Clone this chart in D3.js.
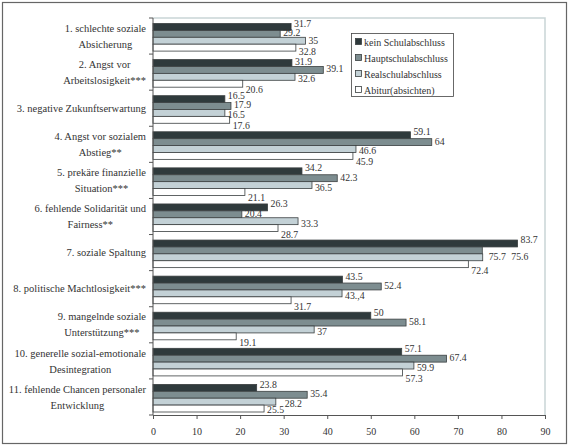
<!DOCTYPE html>
<html><head><meta charset="utf-8">
<script src="https://cdn.jsdelivr.net/npm/d3@7"></script>
<style>
html,body{margin:0;padding:0;background:#fff;}
svg text{font-family:"Liberation Serif","Times New Roman",serif;fill:#333;}
</style></head>
<body><svg id="chart" width="570" height="446"></svg>
<script>
// ---------- data ----------
const categories = [
  ["1. schlechte soziale","Absicherung"],
  ["2. Angst vor","Arbeitslosigkeit***"],
  ["3. negative Zukunftserwartung"],
  ["4. Angst vor sozialem","Abstieg**"],
  ["5. prekäre finanzielle","Situation***"],
  ["6. fehlende Solidarität und","Fairness**"],
  ["7. soziale Spaltung"],
  ["8. politische Machtlosigkeit***"],
  ["9. mangelnde soziale","Unterstützung***"],
  ["10. generelle sozial-emotionale","Desintegration"],
  ["11. fehlende Chancen personaler","Entwicklung"]
];
const seriesNames = ["kein Schulabschluss","Hauptschulabschluss","Realschulabschluss","Abitur(absichten)"];
const keinSchulabschluss  = [31.7,31.9,16.5,59.1,34.2,26.3,83.7,43.5,50,57.1,23.8];
const hauptschulabschluss = [29.2,39.1,17.9,64,42.3,20.4,75.6,52.4,58.1,67.4,35.4];
const realschulabschluss  = [35,32.6,16.5,46.6,36.5,33.3,75.7,43.4,37,59.9,28.2];
const abitur              = [32.8,20.6,17.6,45.9,21.1,28.7,72.4,31.7,19.1,57.3,25.5];
const xTicks = [0,10,20,30,40,50,60,70,80,90];
// label text as printed in the original (one typo kept)
const labelTextOverrides = [{g:7,s:2,text:"43.,4"}];

// ---------- style ----------
const colors = ["#2f3a3c","#7d8d90","#c3d1d6","#ffffff"];
const labelDy = [-3.5,-1,2,6];
const labelNudges = [{g:0,s:2,dx:0,dy:-2.2},{g:0,s:3,dx:0,dy:-2},{g:1,s:0,dx:0,dy:2.5},
  {g:6,s:1,dx:26,dy:7},{g:6,s:2,dx:3,dy:-3},{g:10,s:2,dx:6,dy:0},{g:10,s:3,dx:0,dy:-5}];

const allSeries = [keinSchulabschluss,hauptschulabschluss,realschulabschluss,abitur];
const svg = d3.select("#chart");

// outer frame
svg.append("rect").attr("x",2.5).attr("y",2.5).attr("width",564).attr("height",441)
  .attr("fill","none").attr("stroke","#666").attr("stroke-width",1.2);

const pLeft=153, pRight=545, pTop=18, pBottom=415;
const x = d3.scaleLinear().domain([0,90]).range([pLeft,pRight]);
const y = d3.scaleBand().domain(d3.range(categories.length)).range([pTop,pBottom]).padding(0);
const barH = (y.bandwidth()-8.5)/4;
const barOff = 5.5;

// plot area border (light, top & right)
svg.append("path").attr("d",`M${pLeft},${pTop}H${pRight}V${pBottom}`)
  .attr("fill","none").attr("stroke","#c9d5d6").attr("stroke-width",1.5);

// bars
categories.forEach((c,gi)=>{
  allSeries.forEach((ser,si)=>{
    const v = ser[gi];
    svg.append("rect")
      .attr("x",x(0)).attr("y",y(gi)+barOff+si*barH)
      .attr("width",x(v)-x(0)).attr("height",barH)
      .attr("fill",colors[si]).attr("stroke","#3a3f40").attr("stroke-width",0.8);
  });
});

// value labels
categories.forEach((c,gi)=>{
  allSeries.forEach((ser,si)=>{
    const v = ser[gi];
    const ov = labelTextOverrides.find(o=>o.g===gi&&o.s===si);
    const nd = labelNudges.find(o=>o.g===gi&&o.s===si) || {dx:0,dy:0};
    svg.append("text")
      .attr("x",x(v)+3+nd.dx)
      .attr("y",y(gi)+barOff+si*barH+barH/2+labelDy[si]+nd.dy)
      .attr("dy","0.35em")
      .attr("font-size",9.8)
      .text(ov?ov.text:String(v));
  });
});

// axes
const xAxis = d3.axisBottom(x).tickValues(xTicks).tickSize(4).tickSizeOuter(0).tickFormat(d3.format("d"));
const gx = svg.append("g").attr("transform",`translate(0,${pBottom})`).call(xAxis);
gx.select(".domain").attr("stroke","#555");
gx.selectAll(".tick line").attr("stroke","#555");
gx.selectAll(".tick text").attr("font-size",10).attr("dy","1.3em")
  .style("font-family","'Liberation Serif',serif").attr("fill","#333");

const yBounds = d3.range(categories.length+1).map(i=>pTop+i*y.bandwidth());
const gy = svg.append("g");
gy.append("line").attr("x1",pLeft).attr("x2",pLeft).attr("y1",pTop).attr("y2",pBottom).attr("stroke","#555");
gy.selectAll("line.t").data(yBounds).join("line").attr("class","t")
  .attr("x1",pLeft-4).attr("x2",pLeft).attr("y1",d=>d).attr("y2",d=>d).attr("stroke","#555");

// category labels (wrapped, lines centred, block right-aligned)
const labelRight = 146, lineH = 16;
categories.forEach((lines,gi)=>{
  const cy = y(gi)+y.bandwidth()/2;
  const g = svg.append("g");
  const texts = lines.map((ln,li)=>g.append("text")
    .attr("y",cy+(li-(lines.length-1)/2)*lineH).attr("dy","0.35em")
    .attr("font-size",10.5).attr("text-anchor","middle").text(ln));
  const w = d3.max(texts,t=>t.node().getComputedTextLength());
  texts.forEach(t=>t.attr("x",labelRight-w/2));
});

// legend
const lg = svg.append("g");
lg.append("rect").attr("x",351.5).attr("y",33.5).attr("width",102).attr("height",63)
  .attr("fill","#fff").attr("stroke","#444").attr("stroke-width",0.8);
seriesNames.forEach((n,i)=>{
  const ly = 42+i*16;
  lg.append("rect").attr("x",355.5).attr("y",ly-3.5).attr("width",6).attr("height",6)
    .attr("fill",colors[i]).attr("stroke","#3a3f40").attr("stroke-width",0.8);
  lg.append("text").attr("x",364).attr("y",ly).attr("dy","0.35em").attr("font-size",10).text(n);
});
</script></body></html>
